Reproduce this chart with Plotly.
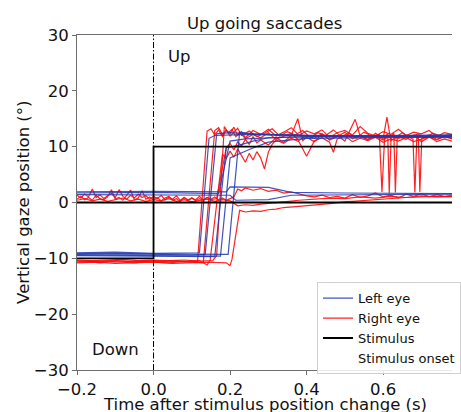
import plotly.graph_objects as go

# ---------------- data ----------------
# time (s) / vertical gaze position (deg) pairs per trial and eye
left_eye = [
    [(-0.2, -9.0), (-0.1, -8.9), (0.0, -9.1), (0.1, -9.0), (0.12, -9.0), (0.145, 11.5), (0.16, 12.0), (0.25, 12.2), (0.4, 12.0), (0.55, 11.9), (0.78, 11.8)],
    [(-0.2, -9.3), (-0.05, -9.2), (0.1, -9.4), (0.135, -9.3), (0.165, 12.3), (0.2, 12.5), (0.3, 12.1), (0.5, 11.8), (0.78, 11.6)],
    [(-0.2, -9.5), (0.0, -9.6), (0.16, -9.7), (0.19, 9.8), (0.22, 10.2), (0.26, 11.0), (0.3, 11.6), (0.45, 11.9), (0.78, 12.1)],
    [(-0.2, -9.1), (0.0, -9.2), (0.195, -9.3), (0.225, 12.6), (0.26, 12.3), (0.4, 12.0), (0.78, 11.9)],
    [(-0.2, 1.7), (0.0, 1.8), (0.17, 1.6), (0.2, 11.0), (0.24, 11.4), (0.35, 11.7), (0.78, 12.0)],
    [(-0.2, 1.9), (0.0, 2.0), (0.19, 1.9), (0.2, 2.8), (0.3, 2.7), (0.36, 1.8), (0.5, 1.7), (0.78, 1.6)],
    [(-0.2, 1.4), (0.0, 1.3), (0.2, 1.3), (0.215, 0.4), (0.3, 0.5), (0.36, 1.3), (0.5, 1.4), (0.78, 1.5)],
    [(-0.2, -9.4), (0.0, -9.5), (0.175, -9.6), (0.2, 8.0), (0.25, 9.5), (0.3, 10.8), (0.4, 11.5), (0.78, 11.8)],
]

right_eye = [
    [(-0.2, -10.4), (-0.18, -10.5), (-0.16, -10.4), (-0.14, -10.6), (-0.12, -10.5), (-0.1, -10.4), (-0.08, -10.5),
     (-0.06, -10.6), (-0.04, -10.5), (-0.02, -10.4), (0.0, -10.5), (0.02, -10.6), (0.04, -10.5), (0.06, -10.4),
     (0.08, -10.6), (0.1, -10.5), (0.115, -10.6), (0.14, 12.8), (0.15, 13.2), (0.16, 12.1), (0.17, 13.0), (0.18, 11.8),
     (0.19, 12.9), (0.2, 12.4), (0.21, 13.5), (0.22, 12.0), (0.23, 12.7), (0.24, 11.6), (0.26, 12.9), (0.28, 12.2),
     (0.3, 13.1), (0.32, 11.9), (0.34, 12.6), (0.36, 13.4), (0.38, 12.0), (0.4, 12.8), (0.42, 12.3), (0.44, 13.0),
     (0.46, 11.7), (0.48, 12.5), (0.5, 12.9), (0.52, 12.1), (0.54, 13.6), (0.56, 12.4), (0.58, 11.9), (0.6, 12.7),
     (0.62, 12.2), (0.64, 13.1), (0.66, 12.0), (0.68, 12.6), (0.7, 12.3), (0.72, 12.9), (0.74, 11.8), (0.76, 12.5), (0.78, 12.2)],
    [(-0.2, -10.7), (-0.17, -10.6), (-0.14, -10.8), (-0.11, -10.6), (-0.08, -10.7), (-0.05, -10.8), (-0.02, -10.6),
     (0.01, -10.7), (0.04, -10.8), (0.07, -10.6), (0.1, -10.7), (0.13, -10.8), (0.16, 12.9), (0.17, 13.4), (0.18, 12.2),
     (0.19, 13.0), (0.2, 11.9), (0.21, 12.6), (0.22, 13.3), (0.23, 12.0), (0.25, 12.8), (0.27, 11.8), (0.29, 12.4),
     (0.31, 13.2), (0.33, 11.9), (0.35, 12.7), (0.37, 12.1), (0.39, 12.9), (0.41, 11.6), (0.43, 12.5), (0.45, 12.0),
     (0.47, 13.0), (0.49, 11.8), (0.51, 12.4), (0.53, 11.5), (0.55, 12.6), (0.57, 11.9), (0.59, 12.2), (0.597, 1.9),
     (0.604, 11.8), (0.612, 12.3), (0.616, 1.7), (0.621, 12.0), (0.628, 12.4), (0.632, 1.8), (0.637, 11.9), (0.65, 12.5),
     (0.67, 11.7), (0.69, 12.3), (0.71, 11.6), (0.73, 12.4), (0.75, 11.9), (0.78, 12.2)],
    [(-0.2, -10.5), (-0.16, -10.6), (-0.12, -10.4), (-0.08, -10.5), (-0.04, -10.6), (0.0, -10.4), (0.04, -10.5),
     (0.08, -10.6), (0.12, -10.4), (0.14, -11.2), (0.148, -10.3), (0.18, 8.6), (0.19, 7.9), (0.2, 9.2), (0.21, 8.1),
     (0.22, 9.6), (0.23, 8.4), (0.24, 7.2), (0.25, 8.8), (0.26, 7.6), (0.27, 9.1), (0.28, 8.0), (0.29, 6.0), (0.3, 9.0),
     (0.31, 10.4), (0.32, 11.2), (0.34, 10.6), (0.36, 11.5), (0.38, 10.9), (0.4, 8.3), (0.42, 11.0), (0.44, 11.6),
     (0.46, 10.8), (0.47, 9.0), (0.48, 11.4), (0.5, 11.9), (0.52, 10.9), (0.54, 11.5), (0.56, 11.1), (0.58, 11.7),
     (0.6, 10.8), (0.62, 11.4), (0.64, 11.0), (0.66, 11.6), (0.68, 10.9), (0.7, 11.3), (0.72, 11.8), (0.74, 10.9),
     (0.76, 11.4), (0.78, 11.0)],
    [(-0.2, -10.8), (-0.15, -10.7), (-0.1, -10.9), (-0.05, -10.8), (0.0, -10.7), (0.05, -10.9), (0.1, -10.8),
     (0.15, -10.7), (0.19, -10.8), (0.2, -11.3), (0.205, -10.2), (0.225, -1.4), (0.24, -1.7), (0.26, -1.5), (0.28, -1.6),
     (0.3, -1.3), (0.32, -1.2), (0.34, -0.9), (0.38, -0.7), (0.42, -0.5), (0.46, -0.2), (0.5, 0.1), (0.54, 0.3),
     (0.58, 0.6), (0.62, 0.8), (0.66, 0.9), (0.7, 1.0), (0.74, 1.1), (0.78, 1.0)],
    [(-0.2, 0.6), (-0.19, 1.1), (-0.18, 0.5), (-0.17, 0.9), (-0.16, 0.4), (-0.15, 1.3), (-0.14, 0.7), (-0.13, 0.5),
     (-0.12, 1.0), (-0.11, 2.3), (-0.1, 0.6), (-0.09, 0.9), (-0.08, 0.4), (-0.07, 1.2), (-0.06, 2.2), (-0.05, 0.5),
     (-0.04, 0.8), (-0.03, 2.1), (-0.02, 0.6), (-0.01, 1.0), (0.0, 0.5), (0.01, 0.9), (0.02, 0.3), (0.03, 0.8),
     (0.04, 1.1), (0.05, 0.4), (0.06, 0.7), (0.07, 0.2), (0.08, 0.9), (0.09, 0.5), (0.1, 0.8), (0.11, 0.3), (0.12, 0.7),
     (0.13, 0.4), (0.14, 0.9), (0.15, 0.5), (0.165, 0.7), (0.19, 9.8), (0.2, 10.6), (0.21, 9.4), (0.22, 10.9),
     (0.23, 10.1), (0.24, 11.3), (0.25, 10.4), (0.26, 11.8), (0.27, 10.7), (0.28, 11.2), (0.3, 10.3), (0.32, 11.6),
     (0.34, 10.8), (0.36, 12.0), (0.377, 15.0), (0.39, 11.1), (0.4, 11.7), (0.42, 10.9), (0.44, 12.2), (0.46, 11.3),
     (0.48, 12.0), (0.5, 11.0), (0.527, 14.9), (0.54, 11.9), (0.56, 11.2), (0.58, 12.4), (0.6, 11.4), (0.61, 15.3),
     (0.62, 11.1), (0.64, 11.8), (0.66, 11.3), (0.68, 12.1), (0.7, 10.9), (0.72, 11.7), (0.74, 11.2), (0.76, 11.9), (0.78, 11.4)],
    [(-0.2, 1.3), (-0.19, 0.8), (-0.18, 1.5), (-0.17, 1.0), (-0.16, 2.4), (-0.15, 0.9), (-0.14, 1.4), (-0.13, 0.7),
     (-0.12, 1.2), (-0.11, 1.6), (-0.1, 0.9), (-0.09, 2.3), (-0.08, 1.1), (-0.07, 0.6), (-0.06, 1.3), (-0.05, 0.8),
     (-0.04, 1.5), (-0.03, 0.9), (-0.02, 1.2), (-0.01, 0.6), (0.0, 1.1), (0.01, 0.7), (0.02, 1.3), (0.03, 0.5),
     (0.04, 1.0), (0.05, 0.6), (0.06, 1.2), (0.07, 0.4), (0.08, 0.9), (0.09, 0.3), (0.1, 0.8), (0.11, 0.5), (0.12, 1.1),
     (0.13, 0.4), (0.14, 0.9), (0.15, 0.6), (0.16, 1.0), (0.17, 0.5), (0.18, 0.8), (0.19, 0.4), (0.2, 0.7), (0.21, 1.0),
     (0.22, 2.4), (0.23, 2.1), (0.24, 2.6), (0.26, 2.2), (0.28, 2.5), (0.3, 2.0), (0.32, 2.2), (0.34, 1.7), (0.36, 1.9),
     (0.38, 1.5), (0.4, 1.2), (0.42, 1.0), (0.44, 1.3), (0.46, 0.9), (0.48, 1.1), (0.5, 0.8), (0.52, 1.4), (0.54, 0.9),
     (0.56, 1.2), (0.58, 1.7), (0.6, 1.0), (0.62, 1.3), (0.64, 0.8), (0.66, 1.5), (0.68, 1.1), (0.7, 1.6), (0.72, 1.0),
     (0.74, 1.4), (0.76, 1.1), (0.78, 1.3)],
    [(-0.2, 0.4), (-0.18, 0.7), (-0.16, 0.3), (-0.14, 0.6), (-0.12, 0.2), (-0.1, 0.5), (-0.08, 0.8), (-0.06, 0.3),
     (-0.04, 0.6), (-0.02, 0.2), (0.0, 0.5), (0.02, 0.3), (0.04, 0.7), (0.06, 0.2), (0.08, 0.5), (0.1, 0.1), (0.12, 0.4),
     (0.14, 0.6), (0.16, 0.2), (0.18, 0.5), (0.2, 0.3), (0.22, -0.6), (0.24, -0.4), (0.26, -0.5), (0.28, -0.3),
     (0.3, -0.2), (0.34, 0.1), (0.38, 0.4), (0.42, 0.6), (0.46, 0.8), (0.5, 0.7), (0.54, 1.0), (0.58, 0.8), (0.62, 1.1),
     (0.66, 0.9), (0.7, 1.2), (0.74, 1.0), (0.78, 1.1)],
    [(-0.2, -10.3), (-0.16, -10.4), (-0.12, -10.3), (-0.08, -10.2), (-0.04, -10.4), (0.0, -10.3), (0.04, -10.4),
     (0.08, -10.3), (0.12, -10.5), (0.155, -10.4), (0.165, -9.5), (0.185, 13.6), (0.195, 12.5), (0.205, 13.1),
     (0.215, 11.8), (0.225, 12.6), (0.24, 11.4), (0.26, 12.2), (0.28, 11.6), (0.3, 12.5), (0.32, 11.3), (0.34, 11.9),
     (0.36, 12.4), (0.38, 11.1), (0.4, 12.0), (0.42, 11.5), (0.44, 12.3), (0.46, 11.2), (0.48, 11.8), (0.5, 12.6),
     (0.52, 11.4), (0.54, 12.1), (0.56, 11.3), (0.58, 11.9), (0.6, 11.2), (0.62, 12.0), (0.64, 11.5), (0.66, 11.9),
     (0.678, 11.4), (0.683, 1.8), (0.688, 11.6), (0.692, 11.9), (0.696, 1.9), (0.701, 11.5), (0.72, 12.1),
     (0.74, 11.3), (0.76, 11.8), (0.78, 11.5)],
]

stimulus = [
    [(-0.2, -10.0), (0.0, -10.0), (0.0, 10.0), (0.78, 10.0)],
    [(-0.2, 0.0), (0.78, 0.0)],
]
onset_time = 0.0

x_ticks = [-0.2, 0.0, 0.2, 0.4, 0.6]
x_ticktext = ["\u22120.2", "0.0", "0.2", "0.4", "0.6"]
y_ticks = [-30, -20, -10, 0, 10, 20, 30]
y_ticktext = ["\u221230", "\u221220", "\u221210", "0", "10", "20", "30"]

title_text = "Up going saccades"
x_label = "Time after stimulus position change (s)"
y_label = "Vertical gaze position (°)"

# ---------------- figure ----------------
FONT = "DejaVu Sans"
BLUE = "rgba(30,55,175,0.85)"
RED = "rgba(255,10,10,0.9)"
AXIS = "#6e6e6e"

fig = go.Figure()


def unzip(pairs):
    return [p[0] for p in pairs], [p[1] for p in pairs]


for i, tr in enumerate(right_eye):
    x, y = unzip(tr)
    fig.add_trace(go.Scatter(x=x, y=y, mode="lines", line=dict(color=RED, width=1.2),
                             name="Right eye", showlegend=(i == 0), legendrank=2, hoverinfo="skip"))
for i, tr in enumerate(left_eye):
    x, y = unzip(tr)
    fig.add_trace(go.Scatter(x=x, y=y, mode="lines", line=dict(color=BLUE, width=1.2),
                             name="Left eye", showlegend=(i == 0), legendrank=1, hoverinfo="skip"))
for i, tr in enumerate(stimulus):
    x, y = unzip(tr)
    fig.add_trace(go.Scatter(x=x, y=y, mode="lines", line=dict(color="black", width=1.8),
                             name="Stimulus", showlegend=(i == 0), legendrank=3, hoverinfo="skip"))

fig.add_trace(go.Scatter(x=[onset_time, onset_time], y=[-30, 30], mode="lines",
                         line=dict(color="black", width=1, dash="6px,2px,1.5px,2px"),
                         showlegend=False, hoverinfo="skip"))
fig.add_trace(go.Scatter(x=[None], y=[None], mode="lines", line=dict(color="rgba(0,0,0,0)", width=1),
                         name="Stimulus onset", showlegend=True, legendrank=4))

axis_common = dict(showgrid=False, zeroline=False, showline=True, linecolor=AXIS, linewidth=1,
                   ticks="outside", ticklen=4, tickwidth=1, tickcolor=AXIS,
                   tickfont=dict(family=FONT, size=16.5, color="#111"))

fig.update_xaxes(range=[-0.2, 0.78], tickvals=x_ticks, ticktext=x_ticktext, mirror=True, **axis_common)
fig.update_yaxes(range=[-30, 30], tickvals=y_ticks, ticktext=y_ticktext, **axis_common)

fig.update_layout(
    width=461, height=412,
    margin=dict(l=77, r=0, t=35, b=42),
    paper_bgcolor="white", plot_bgcolor="white",
    font=dict(family=FONT, size=16.5, color="#111"),
    showlegend=True,
    legend=dict(x=0.64, y=0.262, xanchor="left", yanchor="top",
                bgcolor="rgba(255,255,255,0.85)", bordercolor="#d0d0d0", borderwidth=1,
                font=dict(family=FONT, size=13, color="#111"),
                itemwidth=30, tracegroupgap=0),
    annotations=[
        dict(text=title_text, xref="paper", yref="paper", x=0.5, y=1, xanchor="center", yanchor="bottom",
             showarrow=False, font=dict(family=FONT, size=16.5, color="#111")),
        dict(text=x_label, xref="paper", yref="paper", x=0.5, y=-0.104, xanchor="center", yanchor="middle",
             showarrow=False, font=dict(family=FONT, size=16.5, color="#111")),
        dict(text=y_label, xref="paper", yref="paper", x=-0.143, y=0.5, xanchor="center", yanchor="middle",
             textangle=-90, showarrow=False, font=dict(family=FONT, size=16.5, color="#111")),
        dict(text="Up", xref="x", yref="y", x=0.032, y=26.2, xanchor="left", yanchor="middle",
             showarrow=False, font=dict(family=FONT, size=16.5, color="#111")),
        dict(text="Down", xref="x", yref="y", x=-0.167, y=-26.3, xanchor="left", yanchor="middle",
             showarrow=False, font=dict(family=FONT, size=16.5, color="#111")),
    ],
)

fig.write_html("out.html")
